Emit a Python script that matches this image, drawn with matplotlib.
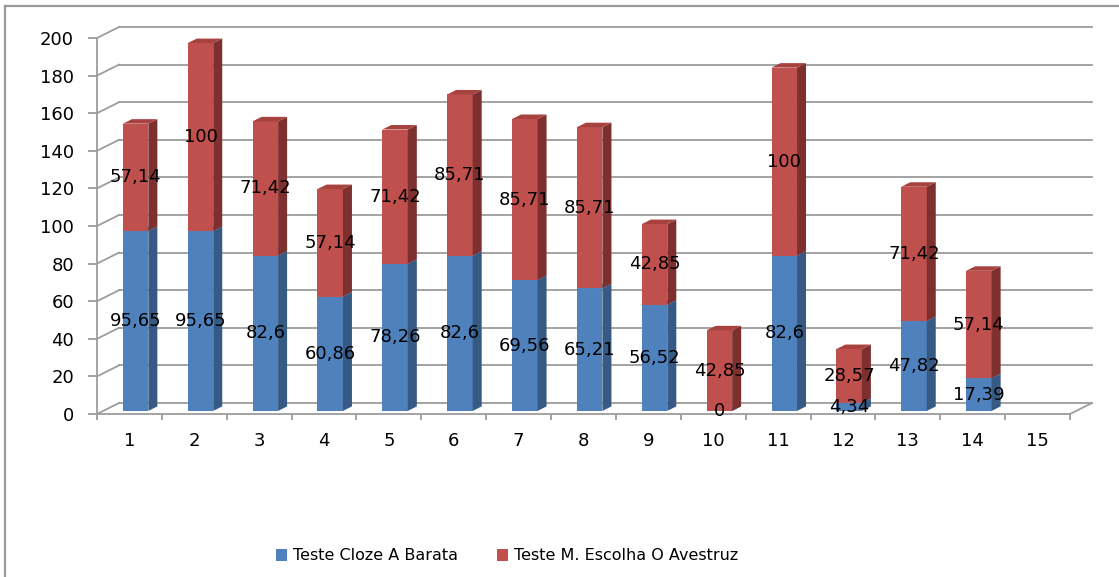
import matplotlib
matplotlib.use('Agg')
import matplotlib.pyplot as plt
from matplotlib.patches import Polygon, Patch
from matplotlib.lines import Line2D

# dados do grafico
categorias = list(range(1, 16))
cloze = [95.65, 95.65, 82.6, 60.86, 78.26, 82.6, 69.56, 65.21, 56.52, 0, 82.6, 4.34, 47.82, 17.39]
escolha = [57.14, 100, 71.42, 57.14, 71.42, 85.71, 85.71, 85.71, 42.85, 42.85, 100, 28.57, 71.42, 57.14]
yticks = [0, 20, 40, 60, 80, 100, 120, 140, 160, 180, 200]
nomes = ["Teste Cloze A Barata", "Teste M. Escolha O Avestruz"]

W, H = 1119, 577
fig = plt.figure(figsize=(W / 100, H / 100), dpi=100)
fig.patch.set_facecolor('white')
ax = fig.add_axes([97 / W, 1 - 414 / H, 973 / W, 376 / H])
ax.set_xlim(0.5, 15.5)
ax.set_ylim(0, 200)
ax.set_facecolor('none')

px_x = 973 / 15.0
px_y = 376 / 200.0
DX = 22 / px_x      # profundidade (efeito 3D)
DY = 11 / px_y
z0, z1 = 0.28, 0.69
larg = 25.5 / px_x

cinza = '#9c9c9c'

# parede do fundo e lateral
for v in yticks:
    ax.plot([0.5 + DX, 15.5 + DX], [v + DY, v + DY], color=cinza, lw=1.3, clip_on=False, zorder=1)
    ax.plot([0.5, 0.5 + DX], [v, v + DY], color=cinza, lw=1.3, clip_on=False, zorder=1)
ax.plot([15.5, 15.5 + DX], [0, DY], color=cinza, lw=1.3, clip_on=False, zorder=1)

for s in ['top', 'right']:
    ax.spines[s].set_visible(False)
for s in ['left', 'bottom']:
    ax.spines[s].set_color(cinza)
    ax.spines[s].set_linewidth(1.3)

ax.set_yticks(yticks)
ax.tick_params(axis='y', length=6.5, width=1.3, color=cinza, labelsize=13, pad=10)
ax.set_xticks([c - 0.5 for c in categorias] + [15.5])
ax.set_xticklabels([])
ax.set_xticks(categorias, minor=True)
ax.set_xticklabels([str(c) for c in categorias], minor=True)
ax.tick_params(axis='x', which='major', length=4.5, width=1.3, color=cinza)
ax.tick_params(axis='x', which='minor', length=0, labelsize=13, pad=13)


def desenha_serie(vals, base, frente, lado, topo):
    xs = [c + z0 * DX for c in categorias[:len(vals)]]
    bottoms = [b + z0 * DY for b in base]
    ax.bar(xs, vals, width=larg, bottom=bottoms, color=frente, linewidth=0, zorder=3, clip_on=False)
    for x, b, v in zip(xs, bottoms, vals):
        xr = x + larg / 2
        xl = x - larg / 2
        dx = (z1 - z0) * DX
        dy = (z1 - z0) * DY
        ax.add_patch(Polygon([(xr, b), (xr + dx, b + dy), (xr + dx, b + v + dy), (xr, b + v)],
                             closed=True, facecolor=lado, edgecolor='none', zorder=3, clip_on=False))
        ax.add_patch(Polygon([(xl, b + v), (xr, b + v), (xr + dx, b + v + dy), (xl + dx, b + v + dy)],
                             closed=True, facecolor=topo, edgecolor='none', zorder=3, clip_on=False))


def rotulos(vals, base):
    for c, b, v in zip(categorias, base, vals):
        txt = f"{v:g}".replace('.', ',')
        ax.text(c + z0 * DX, b + v / 2 + z0 * DY, txt, ha='center', va='center',
                fontsize=13, color='black', zorder=10, clip_on=False)


base0 = [0] * len(cloze)
desenha_serie(cloze, base0, '#4f81bd', '#375a84', '#5d8cc4')
desenha_serie(escolha, cloze, '#c0504d', '#7e302e', '#a8423f')
rotulos(cloze, base0)
rotulos(escolha, cloze)

# legenda
handles = [Patch(facecolor='#4f81bd', edgecolor='none'), Patch(facecolor='#c0504d', edgecolor='none')]
fig.legend(handles, nomes, loc='center', bbox_to_anchor=(507 / W, 1 - 556 / H), ncol=2,
           frameon=False, fontsize=11.5, handlelength=0.7, handleheight=0.7,
           handletextpad=0.4, columnspacing=2.4)

# moldura
fig.add_artist(Line2D([5 / W, 5 / W], [0, 1 - 6 / H], transform=fig.transFigure, color='#999999', lw=1.6))
fig.add_artist(Line2D([5 / W, 1], [1 - 6 / H, 1 - 6 / H], transform=fig.transFigure, color='#999999', lw=1.6))

fig.savefig('out.png', dpi=100)
